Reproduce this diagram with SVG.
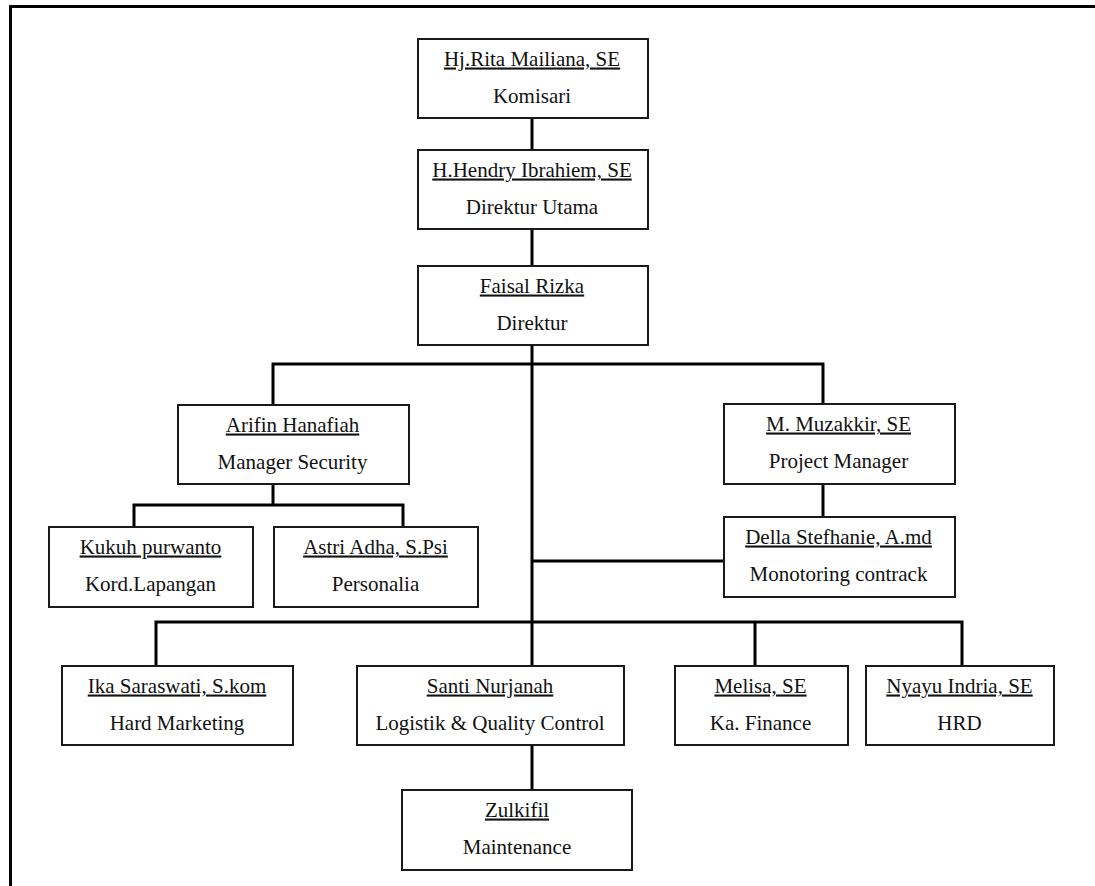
<svg xmlns="http://www.w3.org/2000/svg" width="1095" height="886" viewBox="0 0 1095 886">
<style>
.box{fill:#fff;stroke:#1a1a1a;stroke-width:2}
.t{font-family:"Liberation Serif","Times New Roman",serif;font-size:21px;fill:#111;text-anchor:middle}
.u{text-decoration:underline}
.c{fill:none;stroke:#000;stroke-width:3;stroke-linejoin:miter}
.frame{stroke:#000;stroke-width:3;fill:none}
</style>
<rect width="1095" height="886" fill="#fff"/>
<g id="frame">
<path class="frame" d="M10.5 886 V6.5 H1095"/>
</g>
<g id="connectors">
<path class="c" d="M532 118 V150"/>
<path class="c" d="M532 229 V266"/>
<path class="c" d="M532 345 V666"/>
<path class="c" d="M273 405 V364 H823 V404"/>
<path class="c" d="M273 484 V505"/>
<path class="c" d="M134 527 V505 H403 V527"/>
<path class="c" d="M823 484 V517"/>
<path class="c" d="M532 561 H724"/>
<path class="c" d="M156 666 V622 H962 V666"/>
<path class="c" d="M755 622 V666"/>
<path class="c" d="M532 745 V790"/>
</g>
<g id="komisari">
<rect class="box" x="418" y="39" width="230" height="79"/>
<text class="t u" x="532" y="65.5">Hj.Rita Mailiana, SE</text>
<text class="t" x="532" y="102.5">Komisari</text>
</g>
<g id="direktur-utama">
<rect class="box" x="418" y="150" width="230" height="79"/>
<text class="t u" x="532" y="176.5">H.Hendry Ibrahiem, SE</text>
<text class="t" x="532" y="213.5">Direktur Utama</text>
</g>
<g id="direktur">
<rect class="box" x="418" y="266" width="230" height="79"/>
<text class="t u" x="532" y="292.5">Faisal Rizka</text>
<text class="t" x="532" y="329.5">Direktur</text>
</g>
<g id="manager-security">
<rect class="box" x="178" y="405" width="231" height="79"/>
<text class="t u" x="292.5" y="431.5">Arifin Hanafiah</text>
<text class="t" x="292.5" y="468.5">Manager Security</text>
</g>
<g id="project-manager">
<rect class="box" x="724" y="404" width="231" height="80"/>
<text class="t u" x="838.5" y="430.5">M. Muzakkir, SE</text>
<text class="t" x="838.5" y="467.5">Project Manager</text>
</g>
<g id="kord-lapangan">
<rect class="box" x="49" y="527" width="204" height="80"/>
<text class="t u" x="150.5" y="553.5">Kukuh purwanto</text>
<text class="t" x="150.5" y="590.5">Kord.Lapangan</text>
</g>
<g id="personalia">
<rect class="box" x="274" y="527" width="204" height="80"/>
<text class="t u" x="375.5" y="553.5">Astri Adha, S.Psi</text>
<text class="t" x="375.5" y="590.5">Personalia</text>
</g>
<g id="monitoring">
<rect class="box" x="724" y="517" width="231" height="80"/>
<text class="t u" x="838.5" y="543.5">Della Stefhanie, A.md</text>
<text class="t" x="838.5" y="580.5">Monotoring contrack</text>
</g>
<g id="hard-marketing">
<rect class="box" x="62" y="666" width="231" height="79"/>
<text class="t u" x="177" y="692.5">Ika Saraswati, S.kom</text>
<text class="t" x="177" y="729.5">Hard Marketing</text>
</g>
<g id="logistik">
<rect class="box" x="357" y="666" width="267" height="79"/>
<text class="t u" x="490" y="692.5">Santi Nurjanah</text>
<text class="t" x="490" y="729.5">Logistik &amp; Quality Control</text>
</g>
<g id="finance">
<rect class="box" x="675" y="666" width="173" height="79"/>
<text class="t u" x="760.5" y="692.5">Melisa, SE</text>
<text class="t" x="760.5" y="729.5">Ka. Finance</text>
</g>
<g id="hrd">
<rect class="box" x="866" y="666" width="188" height="79"/>
<text class="t u" x="959.5" y="692.5">Nyayu Indria, SE</text>
<text class="t" x="959.5" y="729.5">HRD</text>
</g>
<g id="maintenance">
<rect class="box" x="402" y="790" width="230" height="80"/>
<text class="t u" x="517" y="816.5">Zulkifil</text>
<text class="t" x="517" y="853.5">Maintenance</text>
</g>
</svg>
